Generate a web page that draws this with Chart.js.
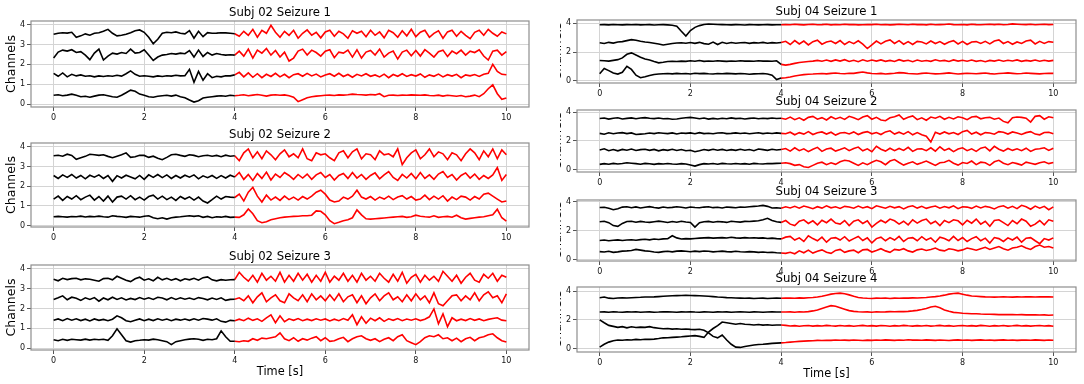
<!DOCTYPE html>
<html>
<head>
<meta charset="utf-8">
<script src="https://cdn.jsdelivr.net/npm/chart.js@4.4.1/dist/chart.umd.min.js"></script>
<style>
  html, body { margin: 0; padding: 0; background: #fff; }
  body { width: 1084px; height: 384px; position: relative; overflow: hidden; }
  canvas { position: absolute; }
</style>
</head>
<body>
<script>
// sample times in seconds (0.1 s step), seizure onset at 4 s
const TIME = [0,0.1,0.2,0.3,0.4,0.5,0.6,0.7,0.8,0.9,1,1.1,1.2,1.3,1.4,1.5,1.6,1.7,1.8,1.9,
  2,2.1,2.2,2.3,2.4,2.5,2.6,2.7,2.8,2.9,3,3.1,3.2,3.3,3.4,3.5,3.6,3.7,3.8,3.9,
  4,4.1,4.2,4.3,4.4,4.5,4.6,4.7,4.8,4.9,5,5.1,5.2,5.3,5.4,5.5,5.6,5.7,5.8,5.9,
  6,6.1,6.2,6.3,6.4,6.5,6.6,6.7,6.8,6.9,7,7.1,7.2,7.3,7.4,7.5,7.6,7.7,7.8,7.9,
  8,8.1,8.2,8.3,8.4,8.5,8.6,8.7,8.8,8.9,9,9.1,9.2,9.3,9.4,9.5,9.6,9.7,9.8,9.9,10];
const ONSET_INDEX = 40;

const X_TICKS = [0, 2, 4, 6, 8, 10];
const Y_TICKS_LEFT = [0, 1, 2, 3, 4];
const Y_TICKS_RIGHT = [0, 2, 4];

// channel baselines, then each channel as deviation from it (hundredths)
// Subj 02 Seizure 1
const S02_SZ1_OFFSETS = [0.42, 1.45, 2.52, 3.52];
const S02_SZ1_CH1 = [2,5,0,3,8,2,-5,-3,-8,-2,3,5,0,-5,-8,2,15,28,22,8,2,-5,-8,-3,0,2,-2,3,-5,-10,-22,-32,-25,-12,-8,-5,-2,0,-3,2,0,
  2,5,0,3,6,2,-2,3,5,2,4,0,-8,-30,-20,-10,-5,-2,0,2,3,1,4,3,5,8,6,5,3,6,4,10,-5,2,3,1,3,2,4,3,2,4,1,0,3,-2,2,0,-3,1,-5,-2,3,-5,10,35,55,10,-18,-12];
const S02_SZ1_CH2 = [10,-5,12,-8,5,-3,2,-5,-2,-8,-3,-6,-2,-5,0,-4,8,22,5,-5,-2,-5,-8,-3,-6,-2,-4,0,-3,-2,30,-35,20,-25,8,-12,-5,-8,-2,-3,2,
  15,-8,12,-10,8,-12,5,-6,10,-8,5,-12,3,8,-5,10,-3,6,-8,2,8,-5,10,-6,4,-10,5,-3,8,-5,2,-8,6,-12,4,-5,8,-6,3,-4,7,-10,2,-5,6,-8,3,-4,5,-12,2,-3,4,-6,5,10,55,20,5,3];
const S02_SZ1_CH3 = [-20,10,20,15,22,8,12,-5,-28,5,25,-30,-10,5,0,8,3,25,5,8,22,-5,-32,-15,-5,-2,3,0,5,2,18,-15,20,-12,8,-5,3,-2,-5,-3,-5,
  15,-10,25,-20,20,5,28,-5,18,-15,10,-35,-20,15,25,-5,20,8,-10,15,22,-18,10,5,20,-15,22,-20,10,18,-5,25,-15,5,15,-25,10,20,-8,18,-10,22,5,-15,12,20,-12,15,2,20,-5,15,8,22,-10,-30,15,20,-5,12];
const S02_SZ1_CH4 = [0,5,8,6,10,-15,-8,2,-5,5,8,15,25,5,-8,-5,0,8,18,22,10,-15,-48,-25,5,10,8,12,5,2,18,-20,15,-12,8,5,6,8,7,5,3,
  -10,15,-5,25,-15,20,5,45,10,-15,15,-5,20,-20,5,22,-5,10,-18,12,20,-10,15,2,-20,18,5,15,-12,20,-5,12,-18,20,8,-15,18,-8,25,-12,10,20,-15,5,18,-20,12,20,-10,15,-5,-22,10,20,-5,25,5,-10,12,2];

// Subj 02 Seizure 2
const S02_SZ2_OFFSETS = [0.45, 1.4, 2.5, 3.55];
const S02_SZ2_CH1 = [0,2,0,-2,1,0,3,-1,2,0,3,0,-2,5,2,0,-3,2,0,-2,3,5,-5,-10,-5,-12,-5,-2,0,3,5,2,5,-3,2,-5,0,-2,2,-3,-2,
  -3,10,40,15,-20,-30,-25,-15,-10,-5,-2,0,2,3,5,5,8,30,28,10,-20,-35,-28,-20,-15,-5,35,10,-10,-12,-10,-8,-6,-4,-2,0,2,-3,0,8,3,0,-2,5,-3,0,2,-2,8,-5,-12,-8,-5,-2,0,5,10,38,-5,-22];
const S02_SZ2_CH2 = [-5,10,-12,8,-5,12,-8,5,15,-10,8,-15,10,-20,5,10,-5,12,-8,5,-10,8,15,-5,10,-8,5,-12,8,-5,6,-10,5,-15,-25,-8,10,-5,8,5,3,
  20,-15,30,55,10,-20,15,-10,5,-12,10,-8,5,-10,8,-5,10,30,40,20,-10,-20,-15,5,-5,10,40,5,-5,8,-10,5,-5,10,-8,5,12,-5,8,-10,-5,15,-8,10,-5,12,-15,5,-8,10,5,-10,8,-5,20,25,10,-5,-20,-15];
const S02_SZ2_CH3 = [5,-10,8,-5,10,-8,5,-12,6,-4,8,-10,5,-25,4,-8,6,-3,-12,5,-15,8,-5,10,-6,8,-10,5,-8,6,-4,8,-12,3,-6,5,-10,4,-8,6,-3,
  20,-15,10,-20,15,-10,22,-18,12,-5,20,5,-15,10,-8,12,-15,8,20,-5,10,-18,5,15,-10,20,-8,10,-15,5,18,-12,8,25,-5,-20,10,-8,15,-12,20,-10,8,-15,12,25,-5,10,-18,5,18,-8,12,-15,5,-10,8,45,-20,10];
const S02_SZ2_CH4 = [0,3,-2,8,2,-18,-10,-3,8,5,2,5,-3,-10,-2,5,15,-8,-5,3,2,-8,-2,-12,-20,-8,5,8,2,-3,5,2,-5,0,3,-2,2,-5,3,-2,0,
  -25,15,35,-10,20,-15,25,5,-20,10,30,-5,10,-10,35,-15,-25,15,5,10,-10,-25,15,25,-10,20,35,-15,10,5,-20,25,5,10,-5,35,-45,-10,15,30,-15,5,35,-5,20,10,-20,15,5,-25,10,35,15,-20,25,-5,35,-15,30,5];

// Subj 02 Seizure 3
const S02_SZ3_OFFSETS = [0.42, 1.43, 2.49, 3.48];
const S02_SZ3_CH1 = [0,-5,2,-3,2,0,-2,3,-2,2,0,2,-3,20,55,25,-5,-12,-5,-3,0,-2,3,0,-5,-10,-25,-10,-5,0,3,5,2,-3,2,0,5,45,15,-8,-8,
  -10,-5,-8,5,-3,8,5,10,15,35,5,-5,10,-8,5,-2,8,15,-5,10,-8,-5,5,12,-10,5,15,20,5,-3,5,-10,2,10,-5,15,25,-5,-15,-25,-10,10,20,15,25,5,10,-5,8,-10,5,12,-5,10,15,25,30,10,-5,-12];
const S02_SZ3_CH2 = [-3,4,-5,6,-2,5,-4,3,-6,4,-3,2,-5,3,20,10,-5,-10,-3,4,-5,3,-4,5,-2,4,-5,3,-2,4,-3,5,-2,6,3,-2,5,-8,-12,-3,-5,
  3,-5,8,-3,5,-8,10,25,-15,20,-10,5,-3,6,-5,3,-4,5,-2,4,-6,3,-5,6,-3,25,-25,15,-18,8,-5,10,-8,5,-3,6,-5,4,-2,5,-4,3,15,55,-20,30,-35,10,-5,3,-4,6,-3,4,-5,2,6,10,-2,-5];
const S02_SZ3_CH3 = [-3,5,15,-5,8,3,-8,5,-3,6,-12,4,-5,8,-3,5,-6,2,-4,6,-2,5,-3,8,4,-5,6,-3,5,-2,4,-3,6,2,-5,4,-3,5,-8,-3,-2,
  5,-10,15,-20,10,30,-15,5,20,-10,-20,25,5,-10,20,-15,25,-5,15,-10,20,-8,25,-15,10,20,-20,15,-25,5,25,-10,15,30,-5,10,-15,20,-10,25,-5,15,-20,30,-25,-35,-10,15,20,-10,15,-5,30,-10,20,35,5,15,-20,25];
const S02_SZ3_CH4 = [0,-8,5,-2,3,5,-3,2,0,-5,-10,3,5,-3,15,5,-5,-12,2,10,-5,2,-8,10,-3,5,-5,3,-8,2,-3,5,-5,8,12,-3,-8,-2,-5,-3,-2,
  35,10,-10,20,-15,30,-5,15,-10,35,-15,20,-10,30,-5,25,-15,20,-10,35,-15,15,-5,30,-10,20,-15,30,-5,15,-10,30,5,-15,25,-10,35,-20,10,25,-15,20,-5,15,-10,40,15,-10,20,-20,10,30,-5,-15,25,5,30,-10,20,10];

// Subj 04 Seizure 1
const S04_SZ1_OFFSETS = [0.5, 1.4, 2.65, 3.9];
const S04_SZ1_CH1 = [0,36,22,5,-2,10,52,30,-10,-27,-20,-12,-5,-2,0,2,-1,3,0,2,-2,4,1,3,0,-2,2,0,3,1,-1,2,0,-3,-1,0,2,-1,-10,-40,-30,
  -28,-22,-15,-10,-6,-3,-2,0,2,-1,3,5,2,0,4,3,8,12,6,2,0,3,-2,1,4,8,6,2,0,-2,3,5,2,-1,0,3,6,2,-2,1,4,2,0,3,5,1,-2,2,4,6,3,0,2,5,3,1,-1,2,4,3];
const S04_SZ1_CH2 = [2,0,-2,3,8,20,45,55,40,25,12,5,-5,-14,-10,-5,-3,-5,-2,-4,0,-3,2,-4,-1,-3,0,-2,-4,-1,-3,0,-2,-1,-3,0,-2,-1,-3,0,-25,
  -30,-25,-18,-12,-8,-5,-2,3,-3,5,-4,6,-2,8,-5,4,-6,7,-3,5,-2,6,-4,3,-5,8,-2,4,-6,5,-3,2,-4,7,-1,3,-5,6,-2,4,-3,5,-4,2,-6,3,-2,5,-3,4,-1,6,-4,3,-2,5,-3,4,-2,3];
const S04_SZ1_CH3 = [0,-5,3,-2,5,8,15,22,18,10,5,2,-3,-8,-15,-10,-5,-2,0,-3,2,-4,3,-6,-10,5,-12,3,-5,2,-3,0,2,-4,1,-2,3,-3,1,-2,2,
  10,-12,15,-8,12,-15,8,18,-10,5,12,-5,15,-12,8,-6,14,-10,-40,-15,12,-8,10,20,-5,15,-10,8,-12,10,5,-8,12,-5,8,-10,6,15,-8,10,-12,5,8,-5,10,-8,12,20,-5,8,-10,6,-5,12,18,-8,10,-5,8,4];
const S04_SZ1_CH4 = [0,1,-1,2,0,-1,1,0,2,-1,0,1,-2,0,1,-1,-3,-10,-45,-78,-40,-18,-6,2,5,4,2,1,0,-1,1,0,-2,1,0,-1,0,1,-1,0,0,
  2,0,3,1,-1,2,4,0,1,3,-1,2,0,3,1,2,-1,0,2,1,3,0,2,-1,1,3,2,0,4,1,2,-1,3,0,1,2,5,1,0,2,-1,3,1,0,2,4,1,3,0,2,6,4,2,1,3,0,2,4,1,2];

// Subj 04 Seizure 2
const S04_SZ2_OFFSETS = [0.4, 1.37, 2.52, 3.55];
const S04_SZ2_CH1 = [-3,2,-2,4,0,3,8,5,2,-2,4,1,-3,2,-1,3,0,-2,2,-1,-8,-15,-5,2,0,3,-2,4,1,-1,3,0,2,-2,4,1,-1,3,2,4,5,
  8,2,-10,-5,-20,-25,-10,5,12,-5,8,-3,15,25,20,5,-10,8,-5,12,25,15,-5,20,30,10,-8,5,15,-3,8,20,5,-10,8,12,25,5,-8,10,3,20,-5,12,8,-10,15,25,5,-5,10,2,-8,12,5,-3,8,15,2,10];
const S04_SZ2_CH2 = [0,8,-5,3,-6,4,-2,6,-4,2,5,-3,4,-6,2,-3,5,-4,3,-6,-2,-12,-5,3,-3,5,-2,4,-4,2,-3,5,-2,3,-5,6,2,-3,5,0,3,
  10,-8,15,-5,8,-12,5,18,-10,6,12,-8,3,15,-5,10,20,-6,8,-12,25,5,-8,12,-5,10,-3,18,-10,6,8,-5,15,-8,22,-3,10,-12,6,15,-5,8,-10,12,20,-6,25,5,-8,10,-3,8,-5,12,-10,5,8,15,-3,12];
const S04_SZ2_CH3 = [0,-6,4,-3,2,5,-2,3,-8,-5,-3,2,-2,4,1,-2,3,-4,2,0,3,-3,5,-2,1,-3,2,4,-2,0,3,-1,2,-3,1,4,-2,2,-1,3,0,
  -3,8,-10,5,-5,12,-8,4,10,-5,8,-12,3,6,-4,10,-8,5,12,-3,6,-8,10,18,-5,8,-6,12,-10,5,-10,-20,-60,8,-5,10,-3,6,-8,12,20,-5,8,-10,5,3,-6,12,8,-5,10,2,-8,5,12,-5,-10,6,8,-3];
const S04_SZ2_CH4 = [0,3,-4,2,5,-3,1,4,-2,3,6,2,-1,3,-2,0,-5,-3,2,5,8,4,-2,3,-4,1,-3,2,-2,4,-1,2,-3,1,3,-2,2,-1,3,0,2,
  -5,10,-8,5,-12,8,15,-5,6,-10,12,-3,8,-6,15,5,-8,10,20,-5,8,-10,-15,5,12,25,-5,8,18,-8,5,-12,10,2,15,-5,8,-3,12,5,-8,10,15,-2,5,8,-5,3,-20,-30,5,10,8,2,-25,15,20,-5,12,5];

// Subj 04 Seizure 3
const S04_SZ3_OFFSETS = [0.55, 1.4, 2.6, 3.6];
const S04_SZ3_CH1 = [0,-3,2,-5,-2,3,5,8,15,10,5,2,-3,-5,0,2,-2,3,5,2,-1,3,0,4,2,-2,1,3,0,-2,2,-1,-3,0,-2,-5,-3,-6,-4,-8,-10,
  -12,-5,-15,5,-8,10,-10,2,12,-5,-12,8,15,-5,5,10,-8,12,15,-3,8,20,5,-5,15,10,20,5,-3,12,18,8,15,25,10,5,20,15,5,12,25,18,10,20,30,15,25,35,20,10,25,30,40,25,15,35,45,30,35,25];
const S04_SZ3_CH2 = [-8,-5,-10,-6,-4,-8,-5,-3,-6,-2,0,-4,2,-1,3,5,25,10,2,5,3,6,8,10,12,8,10,12,9,14,10,8,12,9,11,8,10,6,8,5,3,
  15,20,-5,10,-15,25,5,-10,15,-20,8,12,-5,18,-12,5,20,-8,10,-25,5,15,-10,12,-5,20,-15,8,12,-10,18,-5,10,-20,15,5,-10,20,-8,12,-15,5,18,-10,8,-25,12,5,-15,10,-5,15,-20,8,12,-10,-30,5,-5,10];
const S04_SZ3_CH3 = [2,5,-5,-25,-30,-10,3,5,-2,4,0,-3,2,6,1,-4,3,-2,5,0,-3,-35,-5,2,4,-2,3,1,-3,5,2,-1,4,3,6,8,15,25,10,2,-3,
  10,-15,-25,5,15,-10,8,-20,12,-5,20,-8,-15,10,-25,5,15,-10,8,-35,-10,12,-5,20,8,-15,5,-20,15,-8,10,20,-12,5,-25,10,-5,15,8,-20,12,-8,20,-15,5,-30,10,15,-5,-25,10,-12,20,5,-30,-15,10,-20,15,5];
const S04_SZ3_CH4 = [0,2,-5,-15,-8,3,5,-2,4,-3,2,6,0,-4,3,-2,1,5,2,-3,4,0,-2,3,5,-1,2,-3,4,1,-2,3,2,5,8,10,15,8,-3,-2,-5,
  5,-3,8,-5,10,2,-8,6,-4,12,-2,5,-6,8,3,-5,10,-3,6,-8,12,4,-5,8,-2,6,-10,5,12,-4,8,-6,3,10,-5,7,-2,12,-8,5,3,-6,10,-3,8,2,-10,6,12,-5,8,-8,15,5,-12,10,-5,8,-15,4];

// Subj 04 Seizure 4
const S04_SZ4_OFFSETS = [0.5, 1.5, 2.55, 3.55];
const S04_SZ4_CH1 = [-40,-20,-5,5,10,8,12,10,14,12,15,14,16,20,25,26,28,30,32,35,38,40,35,28,65,90,110,135,130,125,120,125,120,118,115,118,114,116,113,115,115,
  112,108,110,106,109,111,107,110,108,112,109,107,111,108,110,106,109,112,108,110,107,111,109,106,110,108,112,109,107,110,108,111,107,109,112,108,110,106,109,111,108,110,107,112,109,106,110,108,111,107,109,112,108,110,107,109,111,108,110,106];
const S04_SZ4_CH2 = [50,30,12,5,-2,3,-5,2,-3,0,-2,3,-4,-8,-12,-10,-14,-12,-15,-13,-16,-18,-15,-22,-40,-65,-75,-55,-90,-120,-140,-142,-135,-130,-125,-122,-120,-117,-114,-112,-110,
  -108,-105,-102,-100,-98,-96,-95,-93,-94,-92,-93,-90,-92,-91,-93,-90,-92,-94,-91,-93,-90,-92,-89,-91,-93,-90,-92,-88,-91,-90,-92,-89,-91,-93,-90,-92,-94,-91,-89,-92,-90,-93,-91,-89,-92,-90,-93,-91,-89,-92,-90,-93,-91,-90,-92,-89,-91,-93,-90,-92];
const S04_SZ4_CH3 = [0,1,-1,2,0,-1,1,0,2,-1,0,1,-1,0,2,1,0,-1,1,0,2,0,-1,1,0,-1,1,0,1,-1,0,1,0,-1,1,0,-1,0,1,0,0,
  0,1,-1,2,0,3,8,15,25,35,45,40,30,20,10,5,2,0,1,-1,2,0,1,3,2,4,3,5,8,12,18,25,35,40,30,15,5,-2,-5,-8,-10,-12,-12,-14,-15,-15,-16,-18,-17,-18,-18,-19,-18,-20,-19,-20,-21,-20,-22,-21];
const S04_SZ4_CH4 = [0,5,-3,-5,-2,0,-2,0,2,3,5,5,6,8,10,12,14,15,16,17,16,15,14,12,10,8,5,3,1,0,-2,-3,-4,-3,-5,-4,-3,-5,-4,-3,-4,
  -3,-2,-4,-1,-3,0,2,5,10,18,25,30,32,28,20,10,2,-2,-4,-5,-3,-4,-2,-5,-3,-4,-2,-3,-1,-2,0,2,5,8,12,18,25,30,32,25,18,12,10,8,6,5,4,5,6,5,4,6,5,7,6,5,6,7,6,5];

const PANELS = [
  { title: 'Subj 02 Seizure 1', offsets: S02_SZ1_OFFSETS, chans: [S02_SZ1_CH1, S02_SZ1_CH2, S02_SZ1_CH3, S02_SZ1_CH4],
    box: [31, 21, 529, 107], y: [-0.15, 4.19], yTicks: Y_TICKS_LEFT, canvasLeft: 0, xLabel: false },
  { title: 'Subj 02 Seizure 2', offsets: S02_SZ2_OFFSETS, chans: [S02_SZ2_CH1, S02_SZ2_CH2, S02_SZ2_CH3, S02_SZ2_CH4],
    box: [31, 143, 529, 227], y: [-0.07, 4.2], yTicks: Y_TICKS_LEFT, canvasLeft: 0, xLabel: false },
  { title: 'Subj 02 Seizure 3', offsets: S02_SZ3_OFFSETS, chans: [S02_SZ3_CH1, S02_SZ3_CH2, S02_SZ3_CH3, S02_SZ3_CH4],
    box: [31, 265, 529, 350], y: [-0.1, 4.2], yTicks: Y_TICKS_LEFT, canvasLeft: 0, xLabel: true },
  { title: 'Subj 04 Seizure 1', offsets: S04_SZ1_OFFSETS, chans: [S04_SZ1_CH1, S04_SZ1_CH2, S04_SZ1_CH3, S04_SZ1_CH4],
    box: [577, 20, 1076, 83], y: [-0.14, 4.23], yTicks: Y_TICKS_RIGHT, canvasLeft: 560, xLabel: false },
  { title: 'Subj 04 Seizure 2', offsets: S04_SZ2_OFFSETS, chans: [S04_SZ2_CH1, S04_SZ2_CH2, S04_SZ2_CH3, S04_SZ2_CH4],
    box: [577, 110, 1076, 172], y: [-0.16, 4.14], yTicks: Y_TICKS_RIGHT, canvasLeft: 560, xLabel: false },
  { title: 'Subj 04 Seizure 3', offsets: S04_SZ3_OFFSETS, chans: [S04_SZ3_CH1, S04_SZ3_CH2, S04_SZ3_CH3, S04_SZ3_CH4],
    box: [577, 200, 1076, 261], y: [-0.1, 4.12], yTicks: Y_TICKS_RIGHT, canvasLeft: 560, xLabel: false },
  { title: 'Subj 04 Seizure 4', offsets: S04_SZ4_OFFSETS, chans: [S04_SZ4_CH1, S04_SZ4_CH2, S04_SZ4_CH3, S04_SZ4_CH4],
    box: [577, 287, 1076, 352], y: [-0.24, 4.3], yTicks: Y_TICKS_RIGHT, canvasLeft: 560, xLabel: true },
];

const FONT = '"DejaVu Sans", sans-serif';

// frame, title and axis labels placed the matplotlib way
const decor = {
  id: 'decor',
  afterDraw(chart, args, opts) {
    const { ctx, chartArea: a } = chart;
    ctx.save();
    ctx.strokeStyle = '#8e8e8e';
    ctx.lineWidth = 1.2;
    ctx.strokeRect(a.left, a.top, a.right - a.left, a.bottom - a.top);
    ctx.fillStyle = '#000';
    ctx.textAlign = 'center';
    ctx.textBaseline = 'middle';
    ctx.font = '11.7px ' + FONT;
    ctx.fillText(opts.title, (a.left + a.right) / 2, a.top - 8.5);
    ctx.font = '12.5px ' + FONT;
    ctx.translate(a.left - 19, (a.top + a.bottom) / 2);
    ctx.rotate(-Math.PI / 2);
    ctx.fillText('Channels', 0, 0);
    ctx.restore();
    if (opts.xLabel) {
      ctx.save();
      ctx.fillStyle = '#000';
      ctx.textAlign = 'center';
      ctx.textBaseline = 'middle';
      ctx.font = '11.4px ' + FONT;
      ctx.fillText('Time [s]', (a.left + a.right) / 2, a.bottom + 22.5);
      ctx.restore();
    }
  }
};

function segment(offset, devs, from, to) {
  const pts = [];
  for (let i = from; i <= to; i++) pts.push({ x: TIME[i], y: offset + devs[i] / 100 });
  return pts;
}

PANELS.forEach(p => {
  const [L, T, R, B] = p.box;
  const padL = L - p.canvasLeft, padT = 20, padR = 4, padB = p.xLabel ? 34 : 18;
  const canvas = document.createElement('canvas');
  canvas.width = R - L + padL + padR;
  canvas.height = B - T + padT + padB;
  canvas.style.left = p.canvasLeft + 'px';
  canvas.style.top = (T - padT) + 'px';
  document.body.appendChild(canvas);

  const datasets = [];
  p.chans.forEach((devs, k) => {
    datasets.push({ data: segment(p.offsets[k], devs, 0, ONSET_INDEX), borderColor: '#000000' });
    datasets.push({ data: segment(p.offsets[k], devs, ONSET_INDEX, TIME.length - 1), borderColor: '#ff0000' });
  });

  new Chart(canvas.getContext('2d'), {
    type: 'line',
    data: { datasets },
    options: {
      responsive: false,
      animation: false,
      devicePixelRatio: 1,
      parsing: false,
      layout: { padding: { top: padT, right: padR, left: 0, bottom: 0 } },
      elements: { point: { radius: 0 }, line: { borderWidth: 1.6, tension: 0 } },
      plugins: { legend: { display: false }, tooltip: { enabled: false }, decor: { title: p.title, xLabel: p.xLabel } },
      scales: {
        x: {
          type: 'linear', min: -0.5, max: 10.5,
          afterBuildTicks: s => { s.ticks = X_TICKS.map(v => ({ value: v })); },
          afterFit: s => { s.height = padB; },
          grid: { color: '#d4d4d4', tickColor: '#555', tickLength: 4 },
          border: { display: false },
          ticks: { color: '#111', font: { family: FONT, size: 8 }, padding: 2, maxRotation: 0 }
        },
        y: {
          type: 'linear', min: p.y[0], max: p.y[1],
          afterBuildTicks: s => { s.ticks = p.yTicks.map(v => ({ value: v })); },
          afterFit: s => { s.width = padL; },
          grid: { color: '#d4d4d4', tickColor: '#555', tickLength: 4 },
          border: { display: false },
          ticks: { color: '#111', font: { family: FONT, size: 8 }, padding: 2 }
        }
      }
    },
    plugins: [decor]
  });
});
</script>
</body>
</html>
